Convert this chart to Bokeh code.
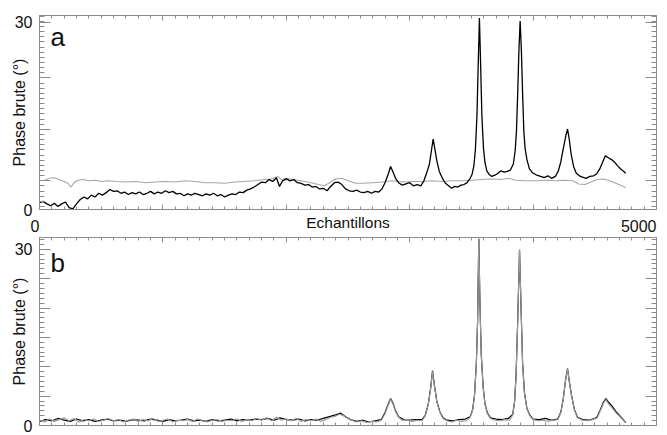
import numpy as np
from bokeh.plotting import figure
from bokeh.models import LinearAxis, FixedTicker, Label, Range1d, CustomLabelingPolicy
from bokeh.layouts import column
from bokeh.embed import file_html
from bokeh.resources import INLINE

# ---------------- data ----------------
# panel a : raw phase (black) and reference (grey)
a_black_x = [0, 30, 60, 90, 120, 150, 180, 210, 240, 270, 300, 330, 360, 390, 420, 450, 480, 510, 540, 570,
             600, 630, 660, 690, 720, 750, 780, 810, 840, 870, 900, 930, 960, 990, 1020, 1050, 1080, 1110, 1140, 1170,
             1200, 1230, 1260, 1290, 1320, 1350, 1380, 1410, 1440, 1470, 1500, 1530, 1560, 1590, 1620, 1650, 1680, 1710,
             1740, 1770, 1800, 1830, 1860, 1890, 1920, 1945, 1970, 2000, 2030, 2060, 2090, 2120, 2150, 2180, 2210, 2240,
             2270, 2300, 2330, 2360, 2390, 2420, 2450, 2480, 2510, 2540, 2570, 2600, 2630, 2660, 2690, 2720, 2750, 2775,
             2800, 2825, 2845, 2865, 2885, 2910, 2940, 2970, 3000, 3030, 3060, 3090, 3115, 3140, 3160, 3175, 3190, 3205,
             3220, 3240, 3265, 3290, 3315, 3340, 3365, 3390, 3415, 3440, 3465, 3490, 3505, 3520, 3532, 3545, 3555, 3565,
             3575, 3585, 3598, 3610, 3625, 3645, 3665, 3690, 3715, 3740, 3765, 3790, 3815, 3840, 3855, 3865, 3875, 3885,
             3895, 3905, 3915, 3925, 3935, 3950, 3970, 3995, 4030, 4060, 4090, 4120, 4150, 4180, 4205, 4225, 4245, 4265,
             4279, 4292, 4308, 4328, 4350, 4375, 4400, 4430, 4460, 4490, 4515, 4540, 4560, 4585, 4610, 4635, 4660, 4685,
             4710, 4735, 4750]
a_black_y = [1.1, 1.3, 0.9, 0.6, 1.0, 0.5, 0.9, 1.2, 0.3, 0.1, 0.9, 1.6, 2.0, 1.7, 2.3, 2.0, 2.6, 2.3, 2.7, 3.2,
             2.9, 3.0, 2.6, 2.8, 2.4, 2.7, 2.5, 2.8, 2.4, 2.6, 2.9, 2.5, 2.8, 2.6, 3.0, 2.7, 2.9, 2.5, 2.6, 2.2,
             2.5, 2.3, 2.6, 2.4, 2.2, 2.5, 2.3, 2.6, 2.2, 2.4, 2.0, 2.3, 2.5, 2.4, 2.8, 2.7, 3.1, 3.3,
             3.6, 4.0, 4.4, 4.3, 4.8, 4.5, 5.1, 3.7, 4.6, 4.9, 4.6, 4.8, 4.3, 4.2, 3.9, 4.0, 3.6, 3.7,
             3.3, 3.4, 3.0, 3.7, 4.3, 4.4, 4.0, 3.3, 3.0, 2.9, 3.1, 2.8, 2.7, 2.9, 2.6, 2.9, 2.8, 3.3,
             4.3, 5.6, 6.9, 6.0, 5.0, 4.3, 3.9, 4.1, 4.3, 3.8, 4.0, 3.8, 4.6, 6.0, 7.3, 9.3, 11.3, 9.6,
             7.8, 6.1, 5.0, 4.2, 3.8, 3.4, 3.7, 3.6, 3.9, 4.0, 4.3, 5.0, 5.6, 7.0, 9.5, 15.0, 23.0, 30.7,
             23.0, 15.0, 9.8, 7.5, 6.2, 5.6, 5.3, 5.5, 5.8, 6.2, 6.0, 6.1, 6.3, 7.3, 9.5, 12.5, 18.5, 25.5,
             30.2, 25.5, 18.5, 12.5, 9.8, 8.0, 6.5, 5.9, 5.5, 5.3, 5.1, 5.4, 5.0, 5.3, 6.2, 7.7, 9.8, 11.8,
             12.9, 11.4, 8.9, 6.9, 5.8, 5.4, 5.2, 5.0, 5.3, 5.4, 5.7, 6.5, 7.4, 8.6, 8.3, 8.0, 7.6, 7.0,
             6.5, 6.1, 5.8]

a_grey_x = [0, 40, 80, 120, 160, 200, 230, 255, 280, 310, 350, 400, 450, 500, 560, 620, 700, 780, 860, 940,
            1020, 1100, 1180, 1260, 1340, 1420, 1500, 1580, 1660, 1740, 1820, 1880, 1930, 1960, 2000, 2060, 2120,
            2200, 2260, 2310, 2360, 2400, 2450, 2500, 2560, 2620, 2700, 2780, 2860, 2940, 3020, 3100, 3180, 3260,
            3340, 3420, 3500, 3580, 3660, 3740, 3800, 3860, 3940, 4020, 4100, 4180, 4260, 4320, 4370, 4420, 4470,
            4520, 4570, 4620, 4670, 4720, 4750]
a_grey_y = [4.6, 4.7, 5.0, 5.1, 4.8, 4.5, 4.2, 3.6, 4.3, 4.7, 4.8, 4.6, 4.7, 4.5, 4.6, 4.5, 4.4, 4.5, 4.3, 4.4,
            4.5, 4.4, 4.6, 4.5, 4.3, 4.3, 4.2, 4.4, 4.5, 4.6, 4.8, 4.9, 5.3, 4.8, 5.0, 4.8, 4.6,
            4.3, 4.0, 3.8, 4.4, 4.9, 5.0, 4.6, 4.2, 4.2, 4.3, 4.4, 4.6, 4.4, 4.5, 4.5, 4.6, 4.5,
            4.6, 4.6, 4.7, 4.8, 4.9, 4.8, 5.0, 4.7, 4.6, 4.6, 4.7, 4.6, 4.7, 4.6, 4.1, 4.0, 4.4,
            4.8, 4.9, 4.6, 4.2, 3.8, 3.5]

# panel b : corrected phase (grey) over raw (black)
b_grey_x = [0, 40, 80, 120, 160, 200, 240, 280, 320, 360, 400, 440, 480, 520, 560, 600, 640, 680, 720, 760,
            800, 840, 880, 920, 960, 1000, 1040, 1080, 1120, 1160, 1200, 1240, 1280, 1320, 1360, 1400, 1440, 1480,
            1520, 1560, 1600, 1640, 1680, 1720, 1760, 1800, 1840, 1880, 1920, 1960, 2000, 2040, 2080, 2120, 2160,
            2200, 2240, 2280, 2320, 2360, 2400, 2430, 2460, 2490, 2530, 2570, 2610, 2650, 2690, 2730, 2770, 2800,
            2825, 2845, 2865, 2885, 2910, 2940, 2980, 3020, 3060, 3100, 3125, 3150, 3170, 3185, 3200, 3220, 3245,
            3270, 3300, 3340, 3380, 3420, 3460, 3490, 3510, 3525, 3540, 3550, 3560, 3570, 3580, 3595, 3610, 3630,
            3655, 3690, 3730, 3770, 3810, 3835, 3850, 3862, 3875, 3890, 3903, 3915, 3930, 3950, 3975, 4000, 4040,
            4080, 4120, 4160, 4200, 4225, 4245, 4262, 4279, 4295, 4312, 4335, 4360, 4400, 4440, 4480, 4520, 4545,
            4570, 4590, 4610, 4640, 4670, 4700, 4730, 4750]
b_grey_y = [0.9, 0.6, 1.1, 0.7, 1.0, 1.3, 0.8, 1.2, 0.6, 1.0, 0.8, 1.1, 0.7, 0.9, 1.2, 0.8, 1.0, 0.6, 0.9, 1.1,
            0.7, 1.0, 0.8, 1.2, 0.7, 0.9, 1.1, 0.6, 0.9, 0.8, 1.0, 0.7, 1.1, 0.8, 0.6, 0.9, 1.0, 0.7,
            0.9, 0.8, 1.1, 0.7, 1.0, 0.8, 1.2, 0.9, 1.3, 0.8, 1.4, 0.9, 1.1, 0.8, 1.2, 0.7, 1.0,
            0.8, 1.1, 0.7, 1.0, 1.4, 1.6, 1.9, 1.7, 1.3, 0.9, 0.6, 0.8, 0.5, 0.7, 0.6, 0.9, 2.0,
            3.4, 4.5, 3.6, 2.4, 1.4, 0.9, 1.0, 0.7, 0.9, 0.8, 1.6, 3.5, 6.3, 9.2, 6.8, 4.0, 2.2,
            1.2, 0.8, 0.6, 0.9, 0.7, 0.8, 1.4, 2.6, 5.0, 10.5, 17.5, 31.8, 20.0, 12.0, 6.5, 3.6, 2.0,
            1.2, 0.9, 0.8, 1.0, 0.9, 1.8, 4.0, 8.5, 17.5, 29.9, 19.5, 10.5, 5.5, 2.8, 1.6, 1.0, 0.8,
            0.9, 0.7, 0.9, 1.0, 2.2, 4.5, 7.5, 9.6, 7.2, 5.0, 2.6, 1.3, 0.9, 0.8, 1.0, 1.3, 2.5,
            3.8, 4.4, 3.7, 3.0, 2.2, 1.6, 0.9, 0.6]

b_black_x = [0, 50, 100, 150, 200, 250, 300, 350, 400, 450, 500, 550, 600, 650, 700, 750, 800, 850, 900, 950,
             1000, 1050, 1100, 1150, 1200, 1250, 1300, 1350, 1400, 1450, 1500, 1550, 1600, 1650, 1700, 1750, 1800,
             1850, 1900, 1950, 2000, 2050, 2100, 2150, 2200, 2250, 2300, 2350, 2400, 2440, 2480, 2520, 2570, 2620,
             2670, 2720, 2770, 2800, 2825, 2845, 2865, 2885, 2910, 2950, 3000, 3050, 3100, 3125, 3150, 3170, 3185,
             3200, 3220, 3245, 3270, 3300, 3350, 3400, 3450, 3490, 3510, 3525, 3540, 3550, 3560, 3570, 3580, 3595,
             3610, 3630, 3655, 3700, 3750, 3800, 3835, 3850, 3862, 3875, 3890, 3903, 3915, 3930, 3950, 3975, 4000,
             4050, 4100, 4150, 4200, 4225, 4245, 4262, 4279, 4295, 4312, 4335, 4360, 4400, 4450, 4500, 4520, 4545,
             4570, 4590, 4610, 4640, 4670, 4700, 4730, 4750]
b_black_y = [0.7, 1.0, 0.8, 1.2, 0.9, 0.7, 1.1, 0.8, 1.0, 0.7, 0.9, 1.1, 0.8, 0.9, 0.7, 1.0, 0.9, 0.8, 1.1, 0.9,
             0.7, 1.0, 0.8, 0.9, 1.1, 0.8, 0.9, 0.7, 1.0, 0.8, 0.9, 1.1, 0.8, 1.0, 0.9, 1.1, 1.0,
             1.2, 0.9, 1.3, 1.0, 0.9, 1.1, 0.8, 1.0, 0.9, 1.2, 1.5, 1.8, 2.1, 1.5, 1.0, 0.7, 0.9,
             0.6, 0.8, 1.0, 2.2, 3.6, 4.6, 3.8, 2.5, 1.5, 1.0, 0.9, 1.0, 1.0, 1.7, 3.6, 6.4, 9.3,
             6.9, 4.1, 2.3, 1.3, 0.9, 0.8, 1.0, 1.1, 1.5, 2.7, 5.1, 10.6, 17.6, 31.8, 20.1, 12.1, 6.6,
             3.7, 2.1, 1.3, 1.1, 1.0, 1.2, 1.9, 4.1, 8.6, 17.6, 29.9, 19.6, 10.6, 5.6, 2.9, 1.7, 1.1,
             1.0, 1.2, 0.9, 1.1, 2.3, 4.6, 7.6, 9.7, 7.3, 5.1, 2.7, 1.4, 1.0, 0.9, 1.2, 1.5, 2.7,
             4.0, 4.6, 4.0, 3.3, 2.4, 1.7, 1.0, 0.5]

x_major = [0, 1000, 2000, 3000, 4000, 5000]
x_labels = {0: "0", 1000: "", 2000: "", 3000: "", 4000: "", 5000: "5000"}
a_y_major = [0, 4.6, 12.9, 21.1, 30]
a_y_labels = {0: "0", 4.6: "", 12.9: "", 21.1: "", 30: "30"}
b_y_major = [0, 5, 10, 15, 20, 25, 30]
b_y_labels = {0: "0", 5: "", 10: "", 15: "", 20: "", 25: "", 30: "30"}

# ---------------- styling / layout ----------------
FONT = "Liberation Sans"
AXC = "#8c8c8c"
TXT = "#111111"
W = 667
LEFT, RIGHT = 39, 656          # frame edges in pixels

x_minor = list(np.arange(0, 5001, 100))
a_y_minor = list(np.round(4.6 + 0.825 * np.arange(-5, 33), 3))
b_y_minor = list(np.round(np.arange(0, 33, 5.0 / 6.0), 3))


def keep_policy(keep):
    cond = " && ".join("i != %d" % k for k in keep)
    return CustomLabelingPolicy(code="for (const i of indices) { if (%s) indices.unset(i) }\nreturn indices" % cond)


def hide_policy():
    return CustomLabelingPolicy(code="return []")


def style_axis(ax, tick_in, minor_in, keep=None, labels=None):
    ax.axis_line_color = AXC
    ax.major_tick_line_color = AXC
    ax.minor_tick_line_color = AXC
    ax.major_tick_in = tick_in
    ax.major_tick_out = 0
    ax.minor_tick_in = minor_in
    ax.minor_tick_out = 0
    ax.major_label_text_font = FONT
    ax.major_label_text_color = TXT
    if keep is None:
        ax.major_label_text_font_size = "0px"
        ax.major_label_standoff = 0
        ax.major_label_policy = hide_policy()
    else:
        ax.major_label_overrides = labels
        ax.major_label_text_font_size = "16px"
        ax.major_label_policy = keep_policy(keep)


def make_panel(height, top_border, bottom_border, ytop, y_major, y_minor, y_labels, keep, letter, x_text):
    p = figure(width=W, height=height, x_range=Range1d(0, 5000), y_range=Range1d(0, ytop),
               output_backend="svg", toolbar_location=None,
               min_border_left=LEFT, min_border_right=W - RIGHT,
               min_border_top=top_border, min_border_bottom=bottom_border)
    p.xgrid.visible = False
    p.ygrid.visible = False
    p.outline_line_color = AXC
    p.background_fill_color = "white"
    p.border_fill_color = "white"

    xa = p.xaxis[0]
    xa.ticker = FixedTicker(ticks=x_major, minor_ticks=x_minor)
    if x_text:
        style_axis(xa, 5, 3, keep=[0, 5], labels=x_labels)
        # tiny angle -> end labels are anchored on their right side
        xa.major_label_orientation = 0.0001
        xa.major_label_standoff = 16
        xa.axis_label = "Echantillons"
        xa.axis_label_text_font = FONT
        xa.axis_label_text_font_size = "15.5px"
        xa.axis_label_text_font_style = "normal"
        xa.axis_label_text_color = TXT
        xa.axis_label_standoff = -27
    else:
        style_axis(xa, 5, 3)

    ya = p.yaxis[0]
    ya.ticker = FixedTicker(ticks=y_major, minor_ticks=y_minor)
    style_axis(ya, 11, 5, keep=keep, labels=y_labels)
    ya.major_label_standoff = 7
    ya.axis_label = "Phase brute (°)"
    ya.axis_label_text_font = FONT
    ya.axis_label_text_font_size = "16px"
    ya.axis_label_text_font_style = "normal"
    ya.axis_label_text_color = TXT
    ya.axis_label_standoff = -16

    top_ax = LinearAxis(ticker=FixedTicker(ticks=x_major, minor_ticks=x_minor))
    style_axis(top_ax, 5, 3)
    p.add_layout(top_ax, "above")
    right_ax = LinearAxis(ticker=FixedTicker(ticks=y_major, minor_ticks=y_minor))
    style_axis(right_ax, 11, 5)
    p.add_layout(right_ax, "right")

    p.add_layout(Label(x=90, y=27.6, text=letter, text_font=FONT, text_font_size="26px",
                       text_color=TXT, text_baseline="alphabetic"))
    return p


# panel a : frame from y=15 to y=209, axis texts below it
p1 = make_panel(236, 15, 27, 31.1, a_y_major, a_y_minor, a_y_labels, [0, 4], "a", True)
p1.line(a_grey_x, a_grey_y, line_color="#a6a6a6", line_width=1.1)
p1.line(a_black_x, a_black_y, line_color="#000000", line_width=1.3)

# panel b : frame from y=237 to y=425
p2 = make_panel(199, 1, 10, 32, b_y_major, b_y_minor, b_y_labels, [0, 6], "b", False)
p2.line(b_black_x, b_black_y, line_color="#000000", line_width=1.2)
p2.line(b_grey_x, b_grey_y, line_color="#9a9a9a", line_width=1.1)

layout = column(p1, p2, spacing=0)
open("out.html", "w").write(file_html(layout, INLINE))
